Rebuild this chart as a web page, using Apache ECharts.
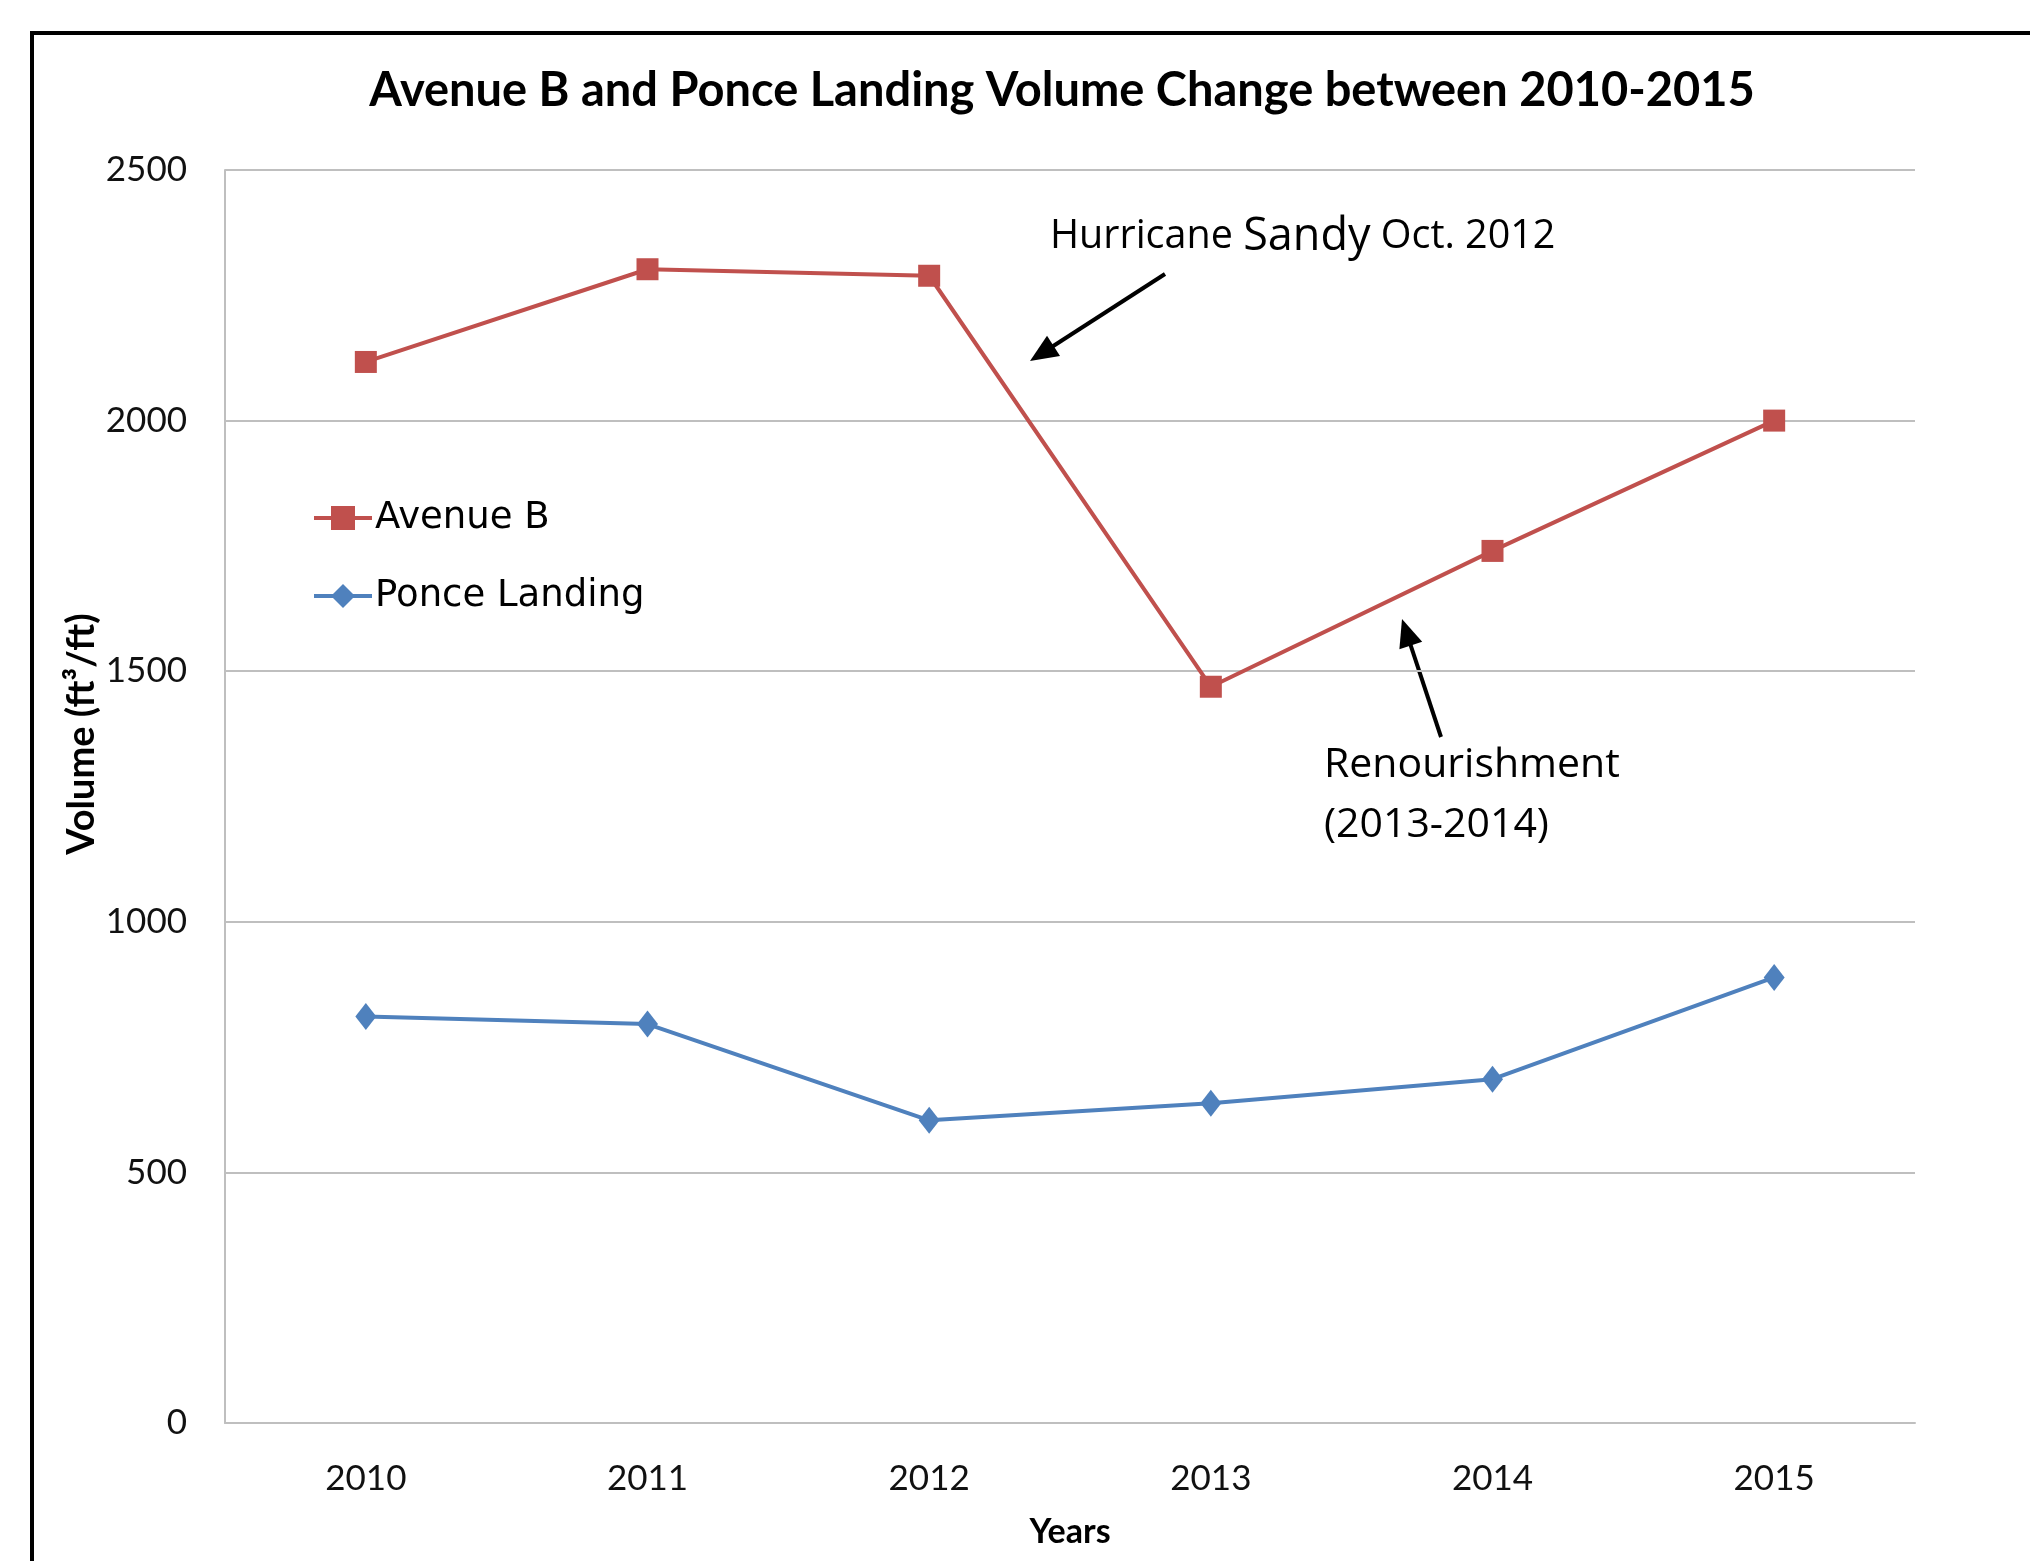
<!DOCTYPE html>
<html>
<head>
<meta charset="utf-8">
<script src="https://cdn.jsdelivr.net/npm/echarts@6/dist/echarts.min.js"></script>
<style>html,body{margin:0;padding:0;background:#fff;}#c{width:2030px;height:1561px;}</style>
</head>
<body>
<div id="c"></div>
<script>
const years = ['2010', '2011', '2012', '2013', '2014', '2015'];
const avenueB = [2117, 2302, 2289, 1469, 1740, 2000];
const ponceLanding = [811, 796, 604, 638, 686, 889];
const yTicks = { min: 0, max: 2500, interval: 500 };

const chart = echarts.init(document.getElementById('c'), null, { renderer: 'canvas' });

function arrow(x1, y1, x2, y2) {
  const ang = Math.atan2(y2 - y1, x2 - x1);
  const L = 28, W = 12;
  const bx = x2 - L * Math.cos(ang), by = y2 - L * Math.sin(ang);
  const px = -Math.sin(ang) * W, py = Math.cos(ang) * W;
  return [
    { type: 'line', shape: { x1: x1, y1: y1, x2: bx + 4 * Math.cos(ang), y2: by + 4 * Math.sin(ang) }, style: { stroke: '#000', lineWidth: 4 } },
    { type: 'polygon', shape: { points: [[x2, y2], [bx + px, by + py], [bx - px, by - py]] }, style: { fill: '#000' } }
  ];
}

const option = {
  animation: false,
  backgroundColor: '#fff',
  grid: { left: 225, right: 115, top: 170, bottom: 138, containLabel: false },
  legend: {
    orient: 'vertical', left: 312, top: 498, padding: 0,
    itemWidth: 58, itemHeight: 30, itemGap: 38,
    lineStyle: { width: 4 },
    textStyle: { fontFamily: 'DejaVu Sans', fontSize: 37, color: '#000', lineHeight: 40, padding: [0, 0, 0, -2] },
    data: ['Avenue B', 'Ponce Landing']
  },
  xAxis: {
    type: 'category', data: years, boundaryGap: true,
    name: 'Years', nameLocation: 'middle', nameGap: 92,
    nameTextStyle: { fontFamily: 'Lato', fontWeight: 'bold', fontSize: 34, color: '#000' },
    axisLine: { lineStyle: { color: '#bfbfbf', width: 2 } },
    axisTick: { show: false },
    axisLabel: { fontFamily: 'Lato', fontSize: 35, color: '#111', margin: 38 }
  },
  yAxis: {
    type: 'value', min: yTicks.min, max: yTicks.max, interval: yTicks.interval,
    axisLine: { show: true, lineStyle: { color: '#bfbfbf', width: 2 } },
    axisTick: { show: false },
    splitLine: { lineStyle: { color: '#bfbfbf', width: 2 } },
    axisLabel: { fontFamily: 'Lato', fontSize: 35, color: '#111', margin: 38, formatter: function (v) { return String(v); } }
  },
  series: [
    {
      name: 'Avenue B', type: 'line', data: avenueB,
      symbol: 'rect', symbolSize: 22,
      lineStyle: { color: '#C0504D', width: 4 },
      itemStyle: { color: '#C0504D' }
    },
    {
      name: 'Ponce Landing', type: 'line', data: ponceLanding,
      symbol: 'diamond', symbolSize: [21, 27],
      lineStyle: { color: '#4F81BD', width: 4 },
      itemStyle: { color: '#4F81BD' }
    }
  ],
  graphic: [
    { type: 'rect', shape: { x: 32, y: 33, width: 2200, height: 1700 }, style: { fill: null, stroke: '#000', lineWidth: 4 }, silent: true },
    { type: 'text', x: 1062, y: 91, style: { text: 'Avenue B and Ponce Landing Volume Change between 2010-2015', font: 'bold 47px Lato', fill: '#000', align: 'center', verticalAlign: 'middle' } },
    { type: 'text', x: 82, y: 734, rotation: Math.PI / 2, style: { text: 'Volume (ft³/ft)', font: 'bold 38px Lato', fill: '#000', align: 'center', verticalAlign: 'middle' } },
    { type: 'text', x: 1050, y: 237, style: {
        text: '{a|Hurricane }{b|Sandy}{a| Oct. 2012}',
        verticalAlign: 'middle', align: 'left',
        rich: { a: { fontFamily: 'Open Sans', fontSize: 39.5, fill: '#000', color: '#000' }, b: { fontFamily: 'Open Sans', fontSize: 45, fill: '#000', color: '#000' } } } },
    { type: 'text', x: 1324, y: 765, style: { text: 'Renourishment', font: '41px "Open Sans"', fill: '#000', align: 'left', verticalAlign: 'middle' } },
    { type: 'text', x: 1324, y: 825, style: { text: '(2013-2014)', font: '41px "Open Sans"', fill: '#000', align: 'left', verticalAlign: 'middle' } },
    ...arrow(1165, 274, 1030, 361),
    ...arrow(1441, 737, 1402, 619)
  ]
};
chart.setOption(option);
</script>
</body>
</html>
